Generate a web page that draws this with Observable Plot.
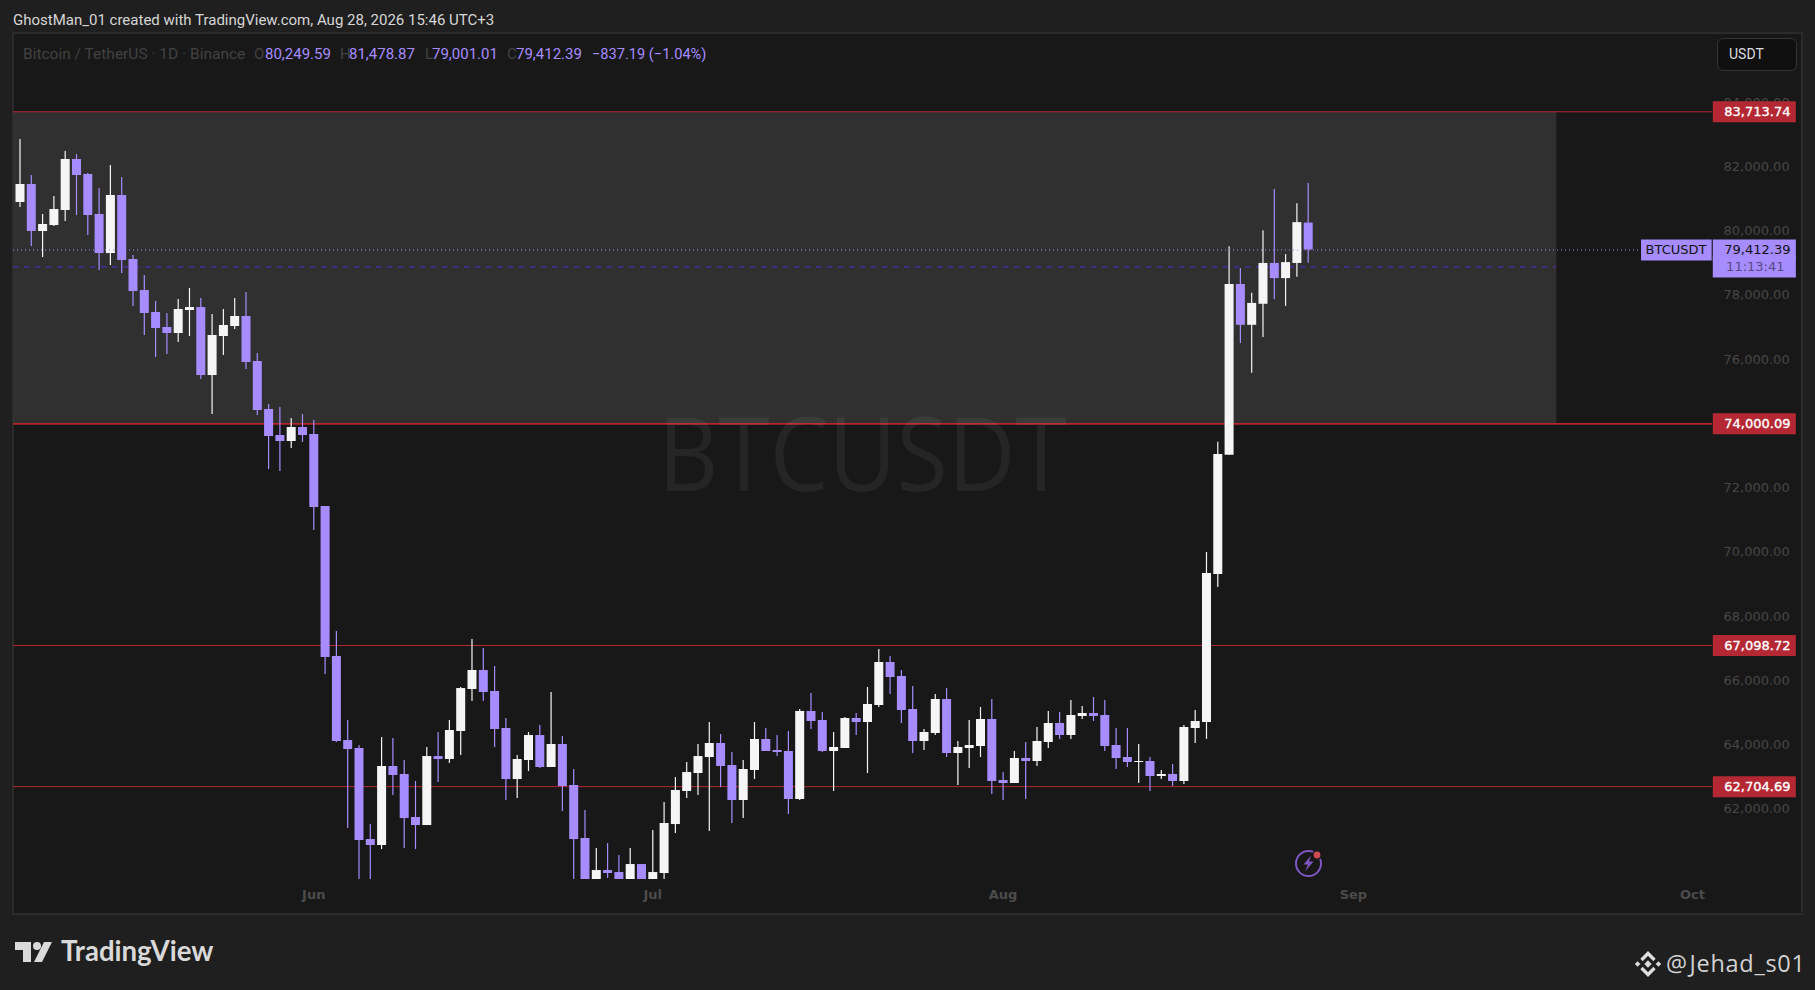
<!DOCTYPE html>
<html><head><meta charset="utf-8">
<script src="https://cdn.jsdelivr.net/npm/d3@7"></script>
<script src="https://cdn.jsdelivr.net/npm/@observablehq/plot@0.6"></script>
<style>
html,body{margin:0;padding:0;background:#1f1f1f;width:1815px;height:990px;overflow:hidden}
#page{position:relative;width:1815px;height:990px;font-family:Roboto,sans-serif}
.abs{position:absolute;white-space:nowrap}
#pane{position:absolute;left:12px;top:32px;width:1787px;height:879px;background:#181818;border:2px solid #2b2b2b}
#chart{position:absolute;left:0;top:32px}
#chart svg{background:transparent;display:block}
#legend span{position:absolute;top:0;white-space:nowrap}
.dim{color:#424242}.val{color:#a68cff}
</style></head>
<body><div id="page">
<div id="pane"></div>
<div class="abs" style="left:13px;top:11px;font-size:15px;color:#d6d6d6" id="head">GhostMan_01 created with TradingView.com, Aug 28, 2026 15:46 UTC+3</div>
<div id="chart"></div>
<div class="abs" style="left:658px;top:392px;font-family:'Open Sans';font-size:102px;line-height:120px;color:rgba(255,255,255,.06);transform-origin:left top;transform:scaleX(.915)">BTCUSDT</div>
<div id="legend" class="abs" style="left:0;top:45px;font-size:15px;height:18px;width:800px">
<span class="dim" style="left:23px;font-size:15.5px">Bitcoin / TetherUS · 1D · Binance</span>
<span class="dim" style="left:254px">O</span><span class="val" style="left:265px">80,249.59</span>
<span class="dim" style="left:340px">H</span><span class="val" style="left:349px">81,478.87</span>
<span class="dim" style="left:425px">L</span><span class="val" style="left:432px">79,001.01</span>
<span class="dim" style="left:507px">C</span><span class="val" style="left:516px">79,412.39</span>
<span class="val" style="left:592px;font-size:14.6px">−837.19 (−1.04%)</span>
</div>
<div class="abs" style="left:1717px;top:38px;width:78px;height:31px;background:#101010;border:1px solid #333;border-radius:6px;color:#dcdcdc;font-size:14px;line-height:31px;text-indent:11px">USDT</div>
<svg class="abs" style="left:1290px;top:845px" width="36" height="36" viewBox="0 0 36 36">
<circle cx="18.5" cy="18.5" r="12.5" fill="none" stroke="#7e57c2" stroke-width="2"/>
<path d="M21 10.5 L13.5 19.5 L18 19.5 L15 26.5 L23.5 16.5 L19 16.5 Z" fill="#7e57c2"/>
<circle cx="27" cy="10" r="5" fill="#181818"/><circle cx="27" cy="10" r="3.4" fill="#d04a55"/>
</svg>
<svg class="abs" style="left:15px;top:941px" width="40" height="22" viewBox="0 0 40 22">
<path d="M0 1 H16 V21 H8 V9 H0 Z M37 1 L27 21 H19 L29 1 Z" fill="#dadada"/><circle cx="22" cy="5" r="4" fill="#dadada"/>
</svg>
<div class="abs" style="left:61px;top:934px;font-family:Lato;font-weight:700;font-size:27.6px;line-height:34px;color:#d9d9d9">TradingView</div>
<svg class="abs" style="left:1634px;top:950px" width="28" height="28" viewBox="0 0 28 28">
<g fill="none" stroke="#dcdcdc" stroke-width="3.4"><path d="M7.5 10 L14 3.5 L20.5 10"/><path d="M7.5 18 L14 24.5 L20.5 18"/></g>
<g fill="#dcdcdc"><rect x="11.4" y="11.4" width="5.2" height="5.2" transform="rotate(45 14 14)"/><rect x="1.6" y="12" width="4" height="4" transform="rotate(45 3.6 14)"/><rect x="22.4" y="12" width="4" height="4" transform="rotate(45 24.4 14)"/></g>
</svg>
<div class="abs" style="left:1666px;top:946px;font-family:'Open Sans';font-size:23.5px;line-height:34px;letter-spacing:.7px;word-spacing:-5px;color:#d2d2d2">@ Jehad_s01</div>
</div>
<script>
const opens=[80889,81450,79986,80173,80640,82228,81761,80516,79301,81107,79115,78150,77465,76998,76811,77527,77620,75503,76718,77029,77340,75939,74445,73636,73449,73885,73667,71425,66755,64140,63891,61058,60872,63331,63082,61743,61494,63642,63549,64421,65728,66320,65666,64514,62926,63518,64296,63300,64016,62740,61090,59700,60093,60031,59700,60280,59700,60000,61525,62553,63113,63611,64047,63363,62273,63207,64172,63830,63799,62304,65044,64764,63799,63892,64826,64702,65231,66569,66134,65106,64110,64359,65418,63736,63892,63954,64795,62896,62803,63581,63487,64079,64670,64297,64888,64982,64919,63985,63612,63456,63487,63020,63083,62865,64515,64700,69311,73019,78337,77067,77722,78992,78521,78992,80249.59];
const highs=[82850,81730,80516,81076,82477,82383,81792,81325,82041,81667,79239,78617,77807,77434,77869,78212,77901,77402,77558,77901,78087,76188,74601,74507,74165,74289,74103,71425,67534,64763,63985,61525,64234,64203,63518,62864,63923,64389,64763,65790,67285,67005,66444,64825,63673,64389,64607,65635,64265,63238,61961,60778,60934,60561,60778,60280,61339,62210,62989,63456,64016,64701,64328,63768,63519,64702,64515,64297,64421,65106,65604,65013,64390,64857,64982,65791,66974,66756,66320,65822,64484,65573,65760,64110,64764,65168,65418,63145,63799,64079,64546,65044,65013,65386,65200,65480,65386,64515,64515,64017,63612,63207,63394,64608,65075,69993,73425,79516,78835,78062,80014,81298,79267,80852,81478.87];
const lows=[80734,79519,79177,80142,80298,80484,79862,78772,78928,78679,77651,76749,76064,76157,76531,76718,75379,74289,76126,76935,75690,74258,72577,72515,73231,73418,70678,66195,64080,61401,59700,59700,60747,62428,60778,60747,61494,62833,63424,63673,65355,65355,63923,62273,62335,63175,63269,63300,61930,59700,59700,59700,59845,59700,59700,59700,59700,59700,61245,62335,62428,61308,62678,61557,61713,62927,63799,63643,61837,62273,64484,63768,62553,63892,64297,63114,65168,65573,64670,63736,63830,64297,63612,62740,63269,63612,62460,62273,62803,62304,63332,63892,64172,64172,64795,64733,63799,63238,63301,62803,62553,62927,62709,62771,64048,64176,68905,73019,76503,75573,76687,77866,77656,78560,79001.01];
const closes=[81450,79986,80204,80671,82228,81730,80484,79301,81107,79084,78118,77434,76967,76811,77558,77620,75503,76749,77060,77340,75908,74414,73604,73449,73885,73636,71394,66724,64109,63860,61027,60872,63331,63051,61712,61494,63642,63549,64452,65759,66320,65635,64483,62926,63549,64296,63300,64016,62708,61058,59700,60093,60000,59700,60280,59700,60031,61557,62584,63144,63642,64047,63332,62273,63238,64172,63799,63768,62304,65044,64733,63799,63923,64826,64702,65262,66569,66102,65075,64110,64390,65418,63736,63923,63985,64795,62865,62803,63581,63487,64110,64670,64297,64919,64982,64888,63954,63581,63456,63487,63020,63083,62865,64546,64733,69338,73045,78337,77067,77748,78992,78521,79018,80263,79412.39];
const levels=[83713.74,74000.09,67098.72,62704.69];
const levelLabels=["83,713.74","74,000.09","67,098.72","62,704.69"];
const priceTicks=[62000,64000,66000,68000,70000,72000,76000,78000,80000,82000,84000];
const monthTicks=["2026-06-01","2026-07-01","2026-08-01","2026-09-01","2026-10-01"];
const lastPrice=79412.39, lastLabel="79,412.39", countdown="11:13:41", symbol="BTCUSDT", dashedLevel=78888;
const boxEnd="2026-09-19";

const UP="#f5f5f5", DOWN="#a68cff", RED="#b42833";
const JUN1=Date.UTC(2026,5,1), DAY=864e5;
const at=d=>new Date(JUN1+d*DAY);
const dates=opens.map((_,i)=>new Date(Date.UTC(2026,4,6+i)));
const candles=opens.map((o,i)=>({date:dates[i],o,h:highs[i],l:lows[i],c:closes[i],col:closes[i]>=o?UP:DOWN}));
const lvl=levels.map((v,i)=>({v,t:levelLabels[i]}));
const tagL=at(123.85), tagR=at(131.2), symL=at(117.5), symR=at(123.75);

const chart=Plot.plot({
  width:1815,height:881,marginLeft:13,marginRight:103,marginTop:0,marginBottom:34,
  style:{background:"transparent",fontFamily:"'DejaVu Sans'",fontSize:"13px",overflow:"visible"},
  x:{type:"utc",domain:[at(-26.575),at(123.78)],label:null},
  y:{domain:[59814,86182],label:null},
  marks:[
    Plot.rect([{}],{x1:()=>at(-26.575),x2:()=>new Date(boxEnd+"T00:00Z"),y1:()=>levels[0],y2:()=>levels[1],fill:"#303030"}),
    Plot.axisY(priceTicks,{anchor:"right",tickSize:0,tickPadding:11,tickFormat:d=>d3.format(",.2f")(d),color:"#474747",fontSize:13,label:null}),
    Plot.axisX(monthTicks.map(d=>new Date(d+"T00:00Z")),{anchor:"bottom",tickSize:0,tickPadding:10,tickFormat:d3.utcFormat("%b"),color:"#4c4c4c",fontSize:13,fontWeight:600,label:null}),
    Plot.ruleY([dashedLevel],{x1:()=>at(-26.575),x2:()=>new Date(boxEnd+"T00:00Z"),stroke:"#4a2bb0",strokeWidth:1.2,strokeDasharray:"5.5,5.5"}),
    Plot.ruleY(levels,{stroke:RED,strokeWidth:1}),
    Plot.ruleY([levels[1]],{stroke:"#c9242f",strokeWidth:1.2}),
    Plot.ruleX(candles,{x:"date",y1:"l",y2:"h",stroke:"col",strokeWidth:1.2,clip:"frame"}),
    Plot.ruleX(candles,{x:"date",y1:"o",y2:"c",stroke:"col",strokeWidth:9,clip:"frame"}),
    Plot.ruleY([lastPrice],{x1:()=>at(-26.575),x2:()=>symL,stroke:"#a08cff",strokeWidth:1,strokeDasharray:"1,3"}),
    Plot.ruleY(levels,{x1:()=>tagL,x2:()=>tagR,stroke:RED,strokeWidth:21}),
    Plot.text(lvl,{y:"v",text:"t",frameAnchor:"right",dx:78,textAnchor:"end",fill:"#ffffff",stroke:"#ffffff",strokeWidth:.35,fontSize:13}),
    Plot.ruleY([lastPrice],{x1:()=>symL,x2:()=>symR,stroke:DOWN,strokeWidth:21}),
    Plot.ruleY([lastPrice],{x1:()=>tagL,x2:()=>tagR,stroke:DOWN,strokeWidth:21}),
    Plot.ruleY([lastPrice],{x1:()=>tagL,x2:()=>tagR,stroke:DOWN,strokeWidth:21,dy:17}),
    Plot.text([symbol],{y:()=>lastPrice,text:d=>d,frameAnchor:"right",dx:-6,textAnchor:"end",fill:"#131313",fontSize:13}),
    Plot.text([lastLabel],{y:()=>lastPrice,text:d=>d,frameAnchor:"right",dx:78,textAnchor:"end",fill:"#131313",fontSize:13}),
    Plot.text([countdown],{y:()=>lastPrice,text:d=>d,frameAnchor:"right",dx:72,dy:17,textAnchor:"end",fill:"#584a84",fontSize:13})
  ]
});
document.getElementById("chart").appendChild(chart);
</script>
</body></html>
